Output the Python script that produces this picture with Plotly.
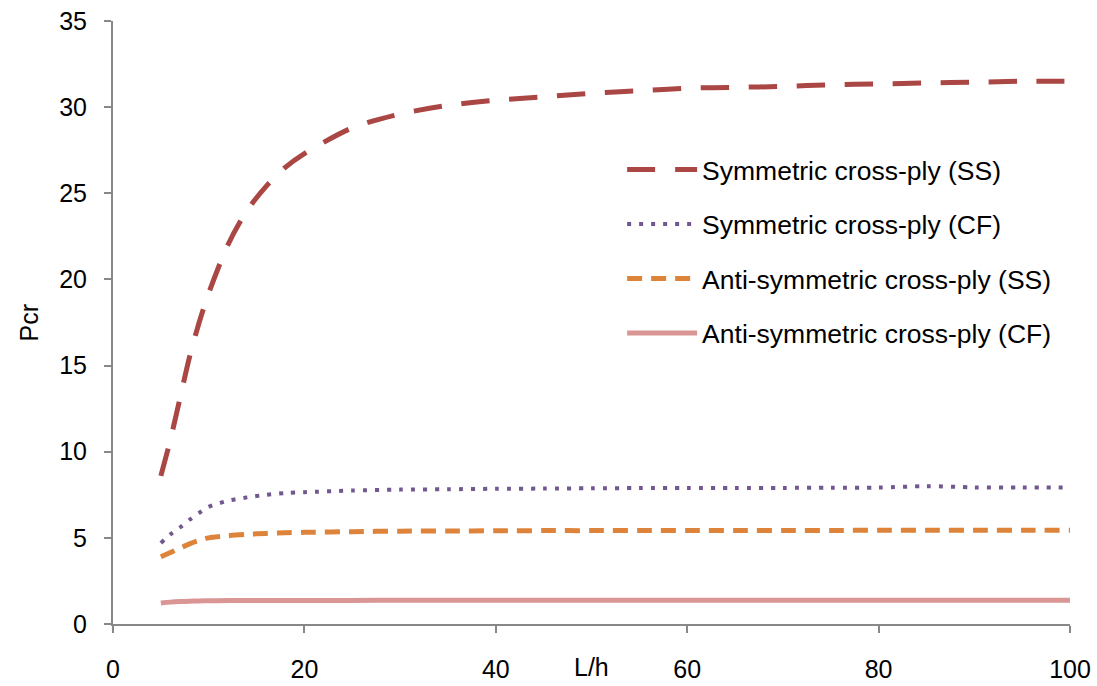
import plotly.graph_objects as go

# ---- data ----
L_h = [5, 6, 7, 8, 9, 10, 12, 14, 16, 18, 20, 25, 30, 35, 40, 45, 50, 55, 60, 65, 70, 75, 80, 85, 90, 95, 100]

sym_ss = [8.6, 10.7, 13.1, 15.5, 17.5, 19.2, 22.0, 24.0, 25.4, 26.5, 27.3, 28.8, 29.6, 30.1, 30.4,
          30.6, 30.8, 30.95, 31.1, 31.15, 31.2, 31.3, 31.35, 31.4, 31.45, 31.5, 31.5]
sym_cf = [4.7, 5.2, 5.6, 6.05, 6.45, 6.8, 7.15, 7.35, 7.5, 7.6, 7.65, 7.75, 7.8, 7.82, 7.85,
          7.86, 7.88, 7.89, 7.9, 7.9, 7.9, 7.91, 7.92, 8.0, 7.93, 7.92, 7.92]
anti_ss = [3.9, 4.15, 4.4, 4.65, 4.85, 5.0, 5.12, 5.2, 5.26, 5.3, 5.32, 5.36, 5.39, 5.4, 5.41,
           5.42, 5.42, 5.43, 5.43, 5.43, 5.43, 5.43, 5.44, 5.44, 5.44, 5.44, 5.44]
anti_cf = [1.22, 1.27, 1.3, 1.32, 1.34, 1.35, 1.36, 1.365, 1.37, 1.37, 1.37, 1.37, 1.375, 1.375, 1.38,
           1.38, 1.38, 1.38, 1.38, 1.38, 1.38, 1.38, 1.38, 1.38, 1.38, 1.38, 1.38]

names = ["Symmetric cross-ply (SS)", "Symmetric cross-ply (CF)",
         "Anti-symmetric cross-ply (SS)", "Anti-symmetric cross-ply (CF)"]
x_ticks = [0, 20, 40, 60, 80, 100]
y_ticks = [0, 5, 10, 15, 20, 25, 30, 35]

FONT = "Liberation Sans, Arial, sans-serif"
FS = 25
LEG_FS = 26.5

fig = go.Figure()
styles = [
    dict(color="#AA4643", width=5, dash="28px,20px"),
    dict(color="#71588F", width=4, dash="4px,8px"),
    dict(color="#DD843A", width=5, dash="15px,9px"),
    dict(color="#D99694", width=5, dash="solid"),
]
for i, (ys, nm) in enumerate(zip([sym_ss, sym_cf, anti_ss, anti_cf], names)):
    fig.add_trace(go.Scatter(
        x=L_h, y=ys, mode="lines", name=nm, legendgroup=f"g{i}",
        line=dict(shape="spline", smoothing=0.8, **styles[i]),
    ))

axis_common = dict(
    showgrid=False, zeroline=False, showline=True, linecolor="#888888", linewidth=2,
    ticks="outside", ticklen=7, tickcolor="#888888", tickwidth=1.5, automargin=False,
    tickfont=dict(family=FONT, size=FS, color="black"),
)
fig.update_xaxes(range=[0, 100], tickvals=x_ticks, ticklabelstandoff=15, **axis_common)
fig.update_yaxes(range=[0, 35], tickvals=y_ticks, ticklabelstandoff=12, **axis_common)

fig.update_layout(
    width=1097, height=686,
    margin=dict(l=113, r=27, t=21, b=62, autoexpand=False),
    plot_bgcolor="white", paper_bgcolor="white",
    font=dict(family=FONT, size=FS, color="black"),
    legend=dict(
        x=0.532, y=0.793, xanchor="left", yanchor="top",
        font=dict(family=FONT, size=LEG_FS, color="black"),
        itemwidth=70, tracegroupgap=17, bgcolor="rgba(0,0,0,0)",
    ),
    annotations=[
        dict(text="L/h", x=50, xref="x", y=-0.072, yref="paper", showarrow=False,
             xanchor="center", yanchor="middle", font=dict(family=FONT, size=FS, color="black")),
        dict(text="Pcr", x=-0.0888, xref="paper", y=0.5, yref="paper", showarrow=False,
             textangle=-90, xanchor="center", yanchor="middle",
             font=dict(family=FONT, size=FS, color="black")),
    ],
)

fig.write_html(
    "out.html",
    config={"displayModeBar": False},
    post_script="document.body.style.margin='0';document.body.style.padding='0';"
                "document.body.style.overflow='hidden';",
)
